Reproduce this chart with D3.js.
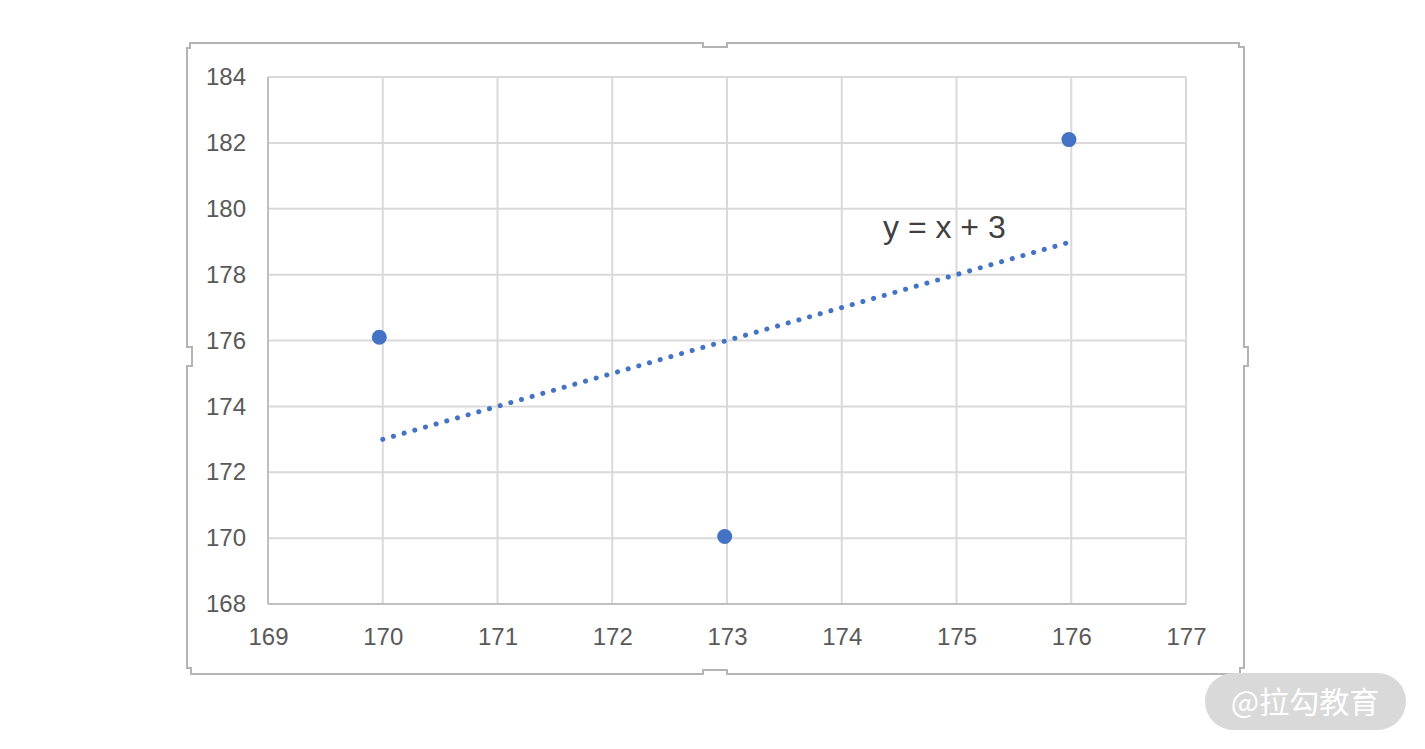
<!DOCTYPE html>
<html><head><meta charset="utf-8">
<script src="https://cdn.jsdelivr.net/npm/d3@7"></script>
<style>html,body{margin:0;padding:0;background:#fff;}svg{display:block;}</style>
</head><body>
<script>
const xTicks = [169,170,171,172,173,174,175,176,177];
const yTicks = [168,170,172,174,176,178,180,182,184];
const pointsX = [169.97,172.98,175.98];
const pointsY = [176.1,170.05,182.1];
const trendX = [170,176];
const trendSlope = 1, trendIntercept = 3;
const equationLabel = "y = x + 3";
const watermark = "@拉勾教育";

const W = 1425, H = 749;
const svg = d3.select("body").append("svg").attr("width", W).attr("height", H);
const x = d3.scaleLinear().domain([169,177]).range([268,1186]);
const y = d3.scaleLinear().domain([168,184]).range([604,77]);
const font = "'Liberation Sans', Arial, sans-serif";

// outer frame with handles
const frame = svg.append("g").attr("fill","none").attr("stroke","#b4b4b4").attr("stroke-width",2);
frame.append("path").attr("d",
  "M190,43 L703,43 L703,47 L727,47 L727,43 L1239,43 L1239,47 L1244,47 L1244,347 L1248,347 L1248,366 L1244,366 L1244,668 L1240,668 L1240,674 L727,674 L727,670 L703,670 L703,674 L191,674 L191,668 L187,668 L187,366 L192,366 L192,347 L187,347 L187,48 L190,48 Z");

// grid
const g = svg.append("g");
g.selectAll(".vx").data(xTicks).enter().append("line")
  .attr("x1",d=>x(d)).attr("x2",d=>x(d)).attr("y1",y(184)).attr("y2",y(168))
  .attr("stroke","#d9d9d9").attr("stroke-width",2);
g.selectAll(".hy").data(yTicks).enter().append("line")
  .attr("x1",x(169)).attr("x2",x(177)).attr("y1",d=>y(d)).attr("y2",d=>y(d))
  .attr("stroke","#d9d9d9").attr("stroke-width",2);
g.append("line").attr("x1",x(169)).attr("x2",x(169)).attr("y1",y(184)).attr("y2",y(168)).attr("stroke","#bfbfbf").attr("stroke-width",2);
g.append("line").attr("x1",x(169)).attr("x2",x(177)).attr("y1",y(168)).attr("y2",y(168)).attr("stroke","#bfbfbf").attr("stroke-width",2);

// axes labels via d3 axes
const yAxis = svg.append("g").attr("transform",`translate(${x(169)},0)`)
  .call(d3.axisLeft(y).tickValues(yTicks).tickSize(0).tickPadding(22));
const xAxis = svg.append("g").attr("transform",`translate(0,${y(168)})`)
  .call(d3.axisBottom(x).tickValues(xTicks).tickSize(0).tickPadding(24));
[yAxis,xAxis].forEach(a=>{
  a.select(".domain").remove();
  a.selectAll("text").attr("font-family",font).attr("font-size",24).attr("fill","#595959");
});

// trendline
const tl = d3.line().x(d=>x(d)).y(d=>y(trendSlope*d+trendIntercept));
svg.append("path").datum(trendX).attr("d",tl).attr("fill","none")
  .attr("stroke","#4472c4").attr("stroke-width",5).attr("stroke-linecap","round")
  .attr("stroke-dasharray","0.1 11");

// points
svg.selectAll(".pt").data(pointsX).enter().append("circle")
  .attr("cx",d=>x(d)).attr("cy",(d,i)=>y(pointsY[i])).attr("r",7.5).attr("fill","#4472c4");

// equation
svg.append("text").attr("x",883).attr("y",238).text(equationLabel)
  .attr("font-family",font).attr("font-size",32).attr("fill","#404040");

// watermark
svg.append("rect").attr("x",1205).attr("y",673).attr("width",201).attr("height",57).attr("rx",28.5)
  .attr("fill","#d9d9d9");
svg.append("text").attr("x",1305).attr("y",713).attr("text-anchor","middle").text(watermark)
  .attr("font-family","'Noto Sans CJK SC', sans-serif").attr("font-size",30).attr("fill","#ffffff");
</script>
</body></html>
